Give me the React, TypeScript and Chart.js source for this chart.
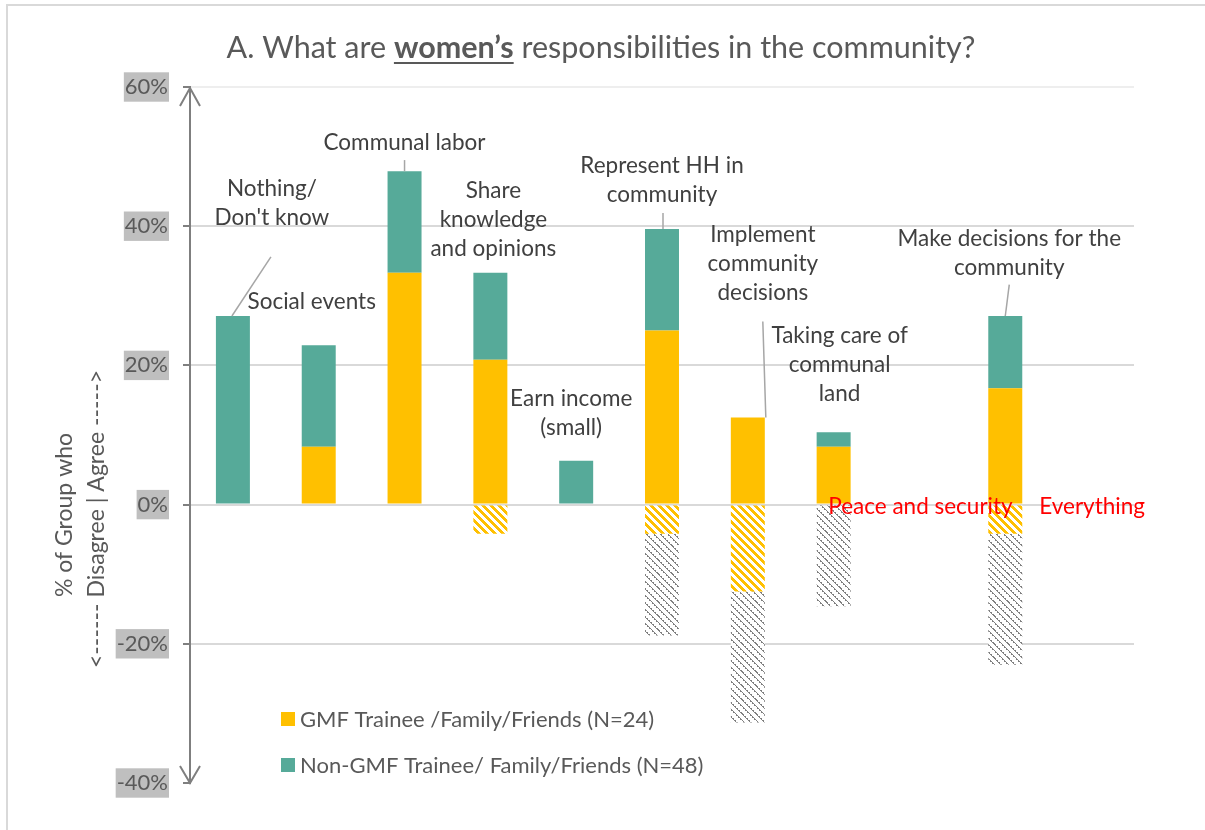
import React, { useEffect, useRef } from "react";
import { Chart, registerables } from "chart.js";

Chart.register(...registerables);

// ---------- DATA ----------
const categories = [
  "Nothing/ Don't know",
  "Social events",
  "Communal labor",
  "Share knowledge and opinions",
  "Earn income (small)",
  "Represent HH in community",
  "Implement community decisions",
  "Taking care of communal land",
  "Peace and security",
  "Make decisions for the community",
  "Everything",
];
const gmfAgree = [0, 8.3, 33.3, 20.8, 0, 25.0, 12.5, 8.3, 0, 16.7, 0];
const nonGmfAgree = [27.1, 14.6, 14.6, 12.5, 6.3, 14.6, 0, 2.1, 0, 10.4, 0];
const gmfDisagree = [0, 0, 0, -4.2, 0, -4.2, -12.5, 0, 0, -4.2, 0];
const nonGmfDisagree = [0, 0, 0, 0, 0, -14.6, -18.8, -14.6, 0, -18.8, 0];
const yTicks = [-40, -20, 0, 20, 40, 60];
const legendLabels = [
  "GMF Trainee /Family/Friends (N=24)",
  "Non-GMF Trainee/ Family/Friends (N=48)",
];
const titleRuns = [
  { text: "A. What are ", bold: false, underline: false },
  { text: "women\u2019s", bold: true, underline: true },
  { text: " responsibilities in the community?", bold: false, underline: false },
];
const yTitleLines = ["% of Group who", "<------ Disagree | Agree ----->"];

// ---------- LAYOUT / STYLE ----------
const FONT = "Lato";
const W = 1205;
const H = 830;
const YELLOW = "#FFC000";
const TEAL = "#56AA99";
const TEXT = "#404040";
const GREY_TEXT = "#595959";
const RED = "#FF0000";

// annotation positions: category index + pixel offset, y in data units
type Ann = {
  cat: number;
  dx: number;
  y: number;
  lines: string[];
  color?: string;
  leader?: { dx: number; y: number; toDx: number };
};
const annotations: Ann[] = [
  { cat: 0, dx: 39, y: 45.4, lines: ["Nothing/", "Don't know"], leader: { dx: 38, y: 35.6, toDx: -1 } },
  { cat: 1, dx: -7, y: 29.1, lines: ["Social events"] },
  { cat: 2, dx: 0, y: 52.0, lines: ["Communal labor"], leader: { dx: 0, y: 49.5, toDx: 0 } },
  { cat: 3, dx: 3, y: 45.1, lines: ["Share", "knowledge", "and opinions"] },
  { cat: 4, dx: -5, y: 15.2, lines: ["Earn income", "(small)"] },
  { cat: 5, dx: 0, y: 48.7, lines: ["Represent HH in", "community"], leader: { dx: 1, y: 41.9, toDx: 1 } },
  { cat: 6, dx: 15, y: 38.8, lines: ["Implement", "community", "decisions"], leader: { dx: 15, y: 26.3, toDx: 18 } },
  { cat: 7, dx: 6, y: 24.3, lines: ["Taking care of", "communal", "land"] },
  { cat: 8, dx: 1, y: -0.3, lines: ["Peace and security"], color: RED },
  { cat: 9, dx: 4, y: 38.2, lines: ["Make decisions for the", "community"], leader: { dx: 4, y: 31.6, toDx: 0 } },
  { cat: 10, dx: 1, y: -0.3, lines: ["Everything"], color: RED },
];

function hatch(
  ctx: CanvasRenderingContext2D,
  fg: string,
  period: number,
  width: number,
  dashed: boolean
): CanvasPattern | string {
  const size = dashed ? period * 2 : period;
  const c = document.createElement("canvas");
  c.width = size;
  c.height = size;
  const g = c.getContext("2d");
  if (!g) return fg;
  g.fillStyle = "#ffffff";
  g.fillRect(0, 0, size, size);
  g.fillStyle = fg;
  for (let yy = 0; yy < size; yy++) {
    for (let xx = 0; xx < size; xx++) {
      const d = (((xx - yy) % period) + period) % period;
      if (d < width) {
        if (dashed && (xx + yy) % 4 === 3) continue;
        g.fillRect(xx, yy, 1, 1);
      }
    }
  }
  return ctx.createPattern(c, "repeat") || fg;
}

const overlayPlugin = {
  id: "overlay",
  afterDraw(chart: any) {
    const { ctx, chartArea } = chart;
    const xs = chart.scales.x;
    const ys = chart.scales.y;
    ctx.save();

    // outer frame
    ctx.strokeStyle = "#d9d9d9";
    ctx.lineWidth = 2;
    ctx.strokeRect(7, 5, W + 100, H + 100);

    // axis arrows
    const ax = chartArea.left;
    const topY = ys.getPixelForValue(60);
    const botY = ys.getPixelForValue(-40);
    ctx.strokeStyle = "#7f7f7f";
    ctx.lineWidth = 2;
    ctx.beginPath();
    ctx.moveTo(ax - 10, topY + 19);
    ctx.lineTo(ax, topY + 1);
    ctx.lineTo(ax + 10, topY + 19);
    ctx.moveTo(ax - 10, botY - 17);
    ctx.lineTo(ax, botY);
    ctx.lineTo(ax + 10, botY - 17);
    ctx.stroke();

    // title
    const tSize = 30.5;
    let total = 0;
    const widths: number[] = [];
    for (const r of titleRuns) {
      ctx.font = `${r.bold ? "bold " : ""}${tSize}px ${FONT}`;
      const w = ctx.measureText(r.text).width;
      widths.push(w);
      total += w;
    }
    let tx = 601 - total / 2;
    const tBase = 58;
    ctx.fillStyle = GREY_TEXT;
    ctx.textBaseline = "alphabetic";
    ctx.textAlign = "left";
    titleRuns.forEach((r, i) => {
      ctx.font = `${r.bold ? "bold " : ""}${tSize}px ${FONT}`;
      ctx.fillText(r.text, tx, tBase);
      if (r.underline) {
        ctx.fillRect(tx, tBase + 4, widths[i], 2);
      }
      tx += widths[i];
    });

    // y title (rotated)
    ctx.font = `23px ${FONT}`;
    ctx.fillStyle = GREY_TEXT;
    ctx.textAlign = "center";
    ctx.textBaseline = "middle";
    const yTitleX = [65, 97];
    const yTitleY = [515, 519];
    yTitleLines.forEach((line, i) => {
      ctx.save();
      ctx.translate(yTitleX[i], yTitleY[i]);
      ctx.rotate(-Math.PI / 2);
      ctx.fillText(line, 0, 0);
      ctx.restore();
    });

    // legend
    const legendColors = [YELLOW, TEAL];
    const lx = chartArea.left + 91;
    const lys = [719, 765];
    ctx.font = `22px ${FONT}`;
    ctx.textAlign = "left";
    ctx.textBaseline = "middle";
    legendLabels.forEach((lab, i) => {
      ctx.fillStyle = legendColors[i];
      ctx.fillRect(lx, lys[i] - 7, 14, 14);
      ctx.fillStyle = GREY_TEXT;
      ctx.fillText(lab, lx + 19, lys[i] + 1);
    });

    // annotations
    ctx.font = `22.5px ${FONT}`;
    ctx.textAlign = "center";
    ctx.textBaseline = "middle";
    for (const a of annotations) {
      const cx = xs.getPixelForValue(a.cat);
      if (a.leader) {
        const topVal = gmfAgree[a.cat] + nonGmfAgree[a.cat];
        ctx.strokeStyle = "#a6a6a6";
        ctx.lineWidth = 1.5;
        ctx.beginPath();
        ctx.moveTo(cx + a.leader.dx, ys.getPixelForValue(a.leader.y));
        ctx.lineTo(cx + a.leader.toDx, ys.getPixelForValue(topVal));
        ctx.stroke();
      }
      ctx.fillStyle = a.color || TEXT;
      const y0 = ys.getPixelForValue(a.y);
      a.lines.forEach((ln, i) => {
        ctx.fillText(ln, cx + a.dx, y0 + i * 29);
      });
    }
    ctx.restore();
  },
};

export default function App() {
  const ref = useRef<HTMLCanvasElement | null>(null);

  useEffect(() => {
    const canvas = ref.current;
    if (!canvas) return;
    const ctx = canvas.getContext("2d");
    if (!ctx) return;
    Chart.defaults.font.family = FONT;

    const yellowHatch = hatch(ctx, YELLOW, 8, 4, false);
    const greyHatch = hatch(ctx, "#808080", 7, 2, true);

    const chart = new Chart(canvas, {
      type: "bar",
      data: {
        labels: categories,
        datasets: [
          { label: legendLabels[0], data: gmfAgree, backgroundColor: YELLOW },
          { label: legendLabels[1], data: nonGmfAgree, backgroundColor: TEAL },
          { label: "GMF disagree", data: gmfDisagree, backgroundColor: yellowHatch as any },
          { label: "Non-GMF disagree", data: nonGmfDisagree, backgroundColor: greyHatch as any },
        ],
      },
      options: {
        responsive: false,
        animation: false,
        layout: { padding: { top: 87, right: 71, bottom: 47, left: 0 } },
        datasets: {
          bar: { categoryPercentage: 1, barPercentage: 0.396, borderWidth: 0 },
        },
        plugins: {
          legend: { display: false },
          title: { display: false },
          tooltip: { enabled: false },
        },
        scales: {
          x: { display: false, stacked: true },
          y: {
            stacked: true,
            min: -40,
            max: 60,
            afterFit: (s: any) => {
              s.width = 190;
            },
            afterBuildTicks: (s: any) => {
              s.ticks = yTicks.map((v) => ({ value: v }));
            },
            ticks: {
              callback: (v: any) => `${v}%`,
              color: GREY_TEXT,
              font: { family: FONT, size: 22 },
              padding: 15,
              showLabelBackdrop: true,
              backdropColor: "#bfbfbf",
              backdropPadding: { top: 1.5, bottom: 1.5, left: 1, right: 1 },
            } as any,
            grid: {
              color: (c: any) =>
                c.tick && c.tick.value === -40
                  ? "rgba(0,0,0,0)"
                  : c.tick && c.tick.value === 60
                  ? "#eeeeee"
                  : "#d9d9d9",
              lineWidth: 2,
              tickLength: 7,
              tickColor: "#7f7f7f",
              drawTicks: true,
            },
            border: { display: true, color: "#7f7f7f", width: 2 },
          },
        },
      },
      plugins: [overlayPlugin],
    });

    let alive = true;
    if ((document as any).fonts && (document as any).fonts.load) {
      Promise.all([
        (document as any).fonts.load(`22px ${FONT}`),
        (document as any).fonts.load(`bold 30px ${FONT}`),
      ]).then(() => {
        if (alive) chart.update();
      });
    }
    return () => {
      alive = false;
      chart.destroy();
    };
  }, []);

  return (
    <div style={{ position: "absolute", left: 0, top: 0, width: W, height: H, background: "#fff" }}>
      <canvas ref={ref} width={W} height={H} style={{ width: W, height: H, display: "block" }} />
    </div>
  );
}
